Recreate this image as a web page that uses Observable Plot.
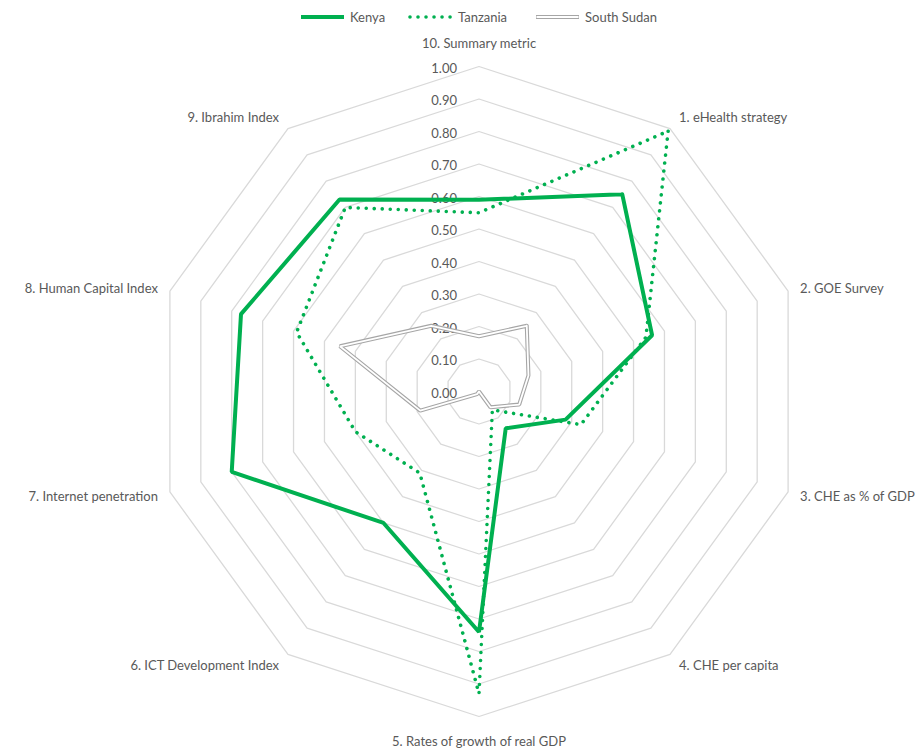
<!DOCTYPE html>
<html>
<head>
<meta charset="utf-8">
<script src="https://cdn.jsdelivr.net/npm/d3@7"></script>
<script src="https://cdn.jsdelivr.net/npm/@observablehq/plot@0.6"></script>
<style>
  html, body { margin: 0; padding: 0; background: #fff; }
  body { width: 921px; height: 751px; overflow: hidden; font-family: Lato, "Open Sans", sans-serif; }
  #legend { height: 30px; position: relative; font-size: 13px; color: #595959; }
  #legend .item { position: absolute; top: 9px; display: flex; align-items: center; }
  #legend svg { display: block; margin-right: 5px; }
  #chart svg { display: block; }
</style>
</head>
<body>
<div id="legend"></div>
<div id="chart"></div>
<script>
// ---- data ----
const categories = [
  "1. eHealth strategy",
  "2. GOE Survey",
  "3. CHE as % of GDP",
  "4. CHE per capita",
  "5. Rates of growth of real GDP",
  "6. ICT Development Index",
  "7. Internet penetration",
  "8. Human Capital Index",
  "9. Ibrahim Index",
  "10. Summary metric"
];
const seriesNames = ["Kenya", "Tanzania", "South Sudan"];
const kenya      = [0.75, 0.56, 0.28, 0.14, 0.74, 0.50, 0.80, 0.77, 0.73, 0.59];
const tanzania   = [0.99, 0.54, 0.33, 0.07, 0.93, 0.31, 0.40, 0.59, 0.70, 0.55];
const southSudan = [0.25, 0.16, 0.13, 0.06, 0.00, 0.01, 0.19, 0.45, 0.25, 0.17];
const ticks = [0, 0.1, 0.2, 0.3, 0.4, 0.5, 0.6, 0.7, 0.8, 0.9, 1.0];

// ---- layout ----
const W = 921, H = 721;
const R = 325;            // pixels for value 1.00
const cx = 478.5, cy = 361;
const n = categories.length;
const angle = i => 2 * Math.PI * (i + 1) / n;   // axis 1 at 36°, axis 10 at top
const px = v => v / R;     // pixel offset in data units

function polygon(values, name) {
  const pts = values.map((v, i) => ({name, i, x: v * Math.sin(angle(i)), y: v * Math.cos(angle(i))}));
  pts.push({...pts[0], i: n});
  return pts;
}

const grid = ticks.flatMap(t => polygon(categories.map(() => t), t));
const kData = polygon(kenya, "Kenya");
const tData = polygon(tanzania, "Tanzania");
const sData = polygon(southSudan, "South Sudan");

const labels = categories.map((c, i) => {
  const a = angle(i);
  const s = Math.sin(a), co = Math.cos(a);
  let dx = 0, dy = 0, anchor = "middle";
  if (Math.abs(s) < 1e-6) { dy = co > 0 ? -23 : 25; }
  else {
    anchor = s > 0 ? "start" : "end";
    const k = Math.abs(co) > 0.5 ? 9 : 12;
    dx = s > 0 ? k : -k;
    dy = co > 0.5 ? -11 : co > 0 ? -2 : co > -0.5 ? 5 : 11;
  }
  return {text: c, anchor, x: s + px(dx), y: co - px(dy)};
});

const textColor = "#595959";
const green = "#00B050";

const chart = Plot.plot({
  width: W,
  height: H,
  margin: 0,
  style: {fontFamily: "Lato, 'Open Sans', sans-serif", fontSize: "13px", color: textColor, background: "#fff"},
  x: {domain: [px(-cx), px(W - cx)], range: [0, W], axis: null},
  y: {domain: [px(cy - H), px(cy)], range: [H, 0], axis: null},
  marks: [
    Plot.line(grid, {x: "x", y: "y", z: "name", stroke: "#D9D9D9", strokeWidth: 1.3}),
    Plot.text(ticks, {x: px(-22), y: d => d, dy: 2, text: d => d.toFixed(2), textAnchor: "end", fill: textColor, fontSize: 13}),
    Plot.line(sData, {x: "x", y: "y", stroke: "#A6A6A6", strokeWidth: 4, strokeLinejoin: "miter"}),
    Plot.line(sData, {x: "x", y: "y", stroke: "#ffffff", strokeWidth: 1.8, strokeLinejoin: "miter"}),
    Plot.line(tData, {x: "x", y: "y", stroke: green, strokeWidth: 3.6, strokeDasharray: "0.01 8", strokeLinecap: "round"}),
    Plot.line(kData, {x: "x", y: "y", stroke: green, strokeWidth: 4, strokeLinejoin: "miter"}),
    Plot.text(labels.filter(d => d.anchor === "start"), {x: "x", y: "y", text: "text", textAnchor: "start", fill: textColor, fontSize: 13}),
    Plot.text(labels.filter(d => d.anchor === "end"), {x: "x", y: "y", text: "text", textAnchor: "end", fill: textColor, fontSize: 13}),
    Plot.text(labels.filter(d => d.anchor === "middle"), {x: "x", y: "y", text: "text", textAnchor: "middle", fill: textColor, fontSize: 13})
  ]
});
document.getElementById("chart").appendChild(chart);

// ---- legend ----
const legendPos = [300, 408, 535];
const legend = document.getElementById("legend");
seriesNames.forEach((name, k) => {
  const item = document.createElement("div");
  item.className = "item";
  item.style.left = legendPos[k] + "px";
  let sample;
  if (k === 0) sample = `<line x1="1" x2="44" y1="5" y2="5" stroke="${green}" stroke-width="4"/>`;
  else if (k === 1) sample = `<line x1="2" x2="44" y1="5" y2="5" stroke="${green}" stroke-width="3.6" stroke-dasharray="0.01 8" stroke-linecap="round"/>`;
  else sample = `<line x1="1" x2="44" y1="5" y2="5" stroke="#A6A6A6" stroke-width="4"/><line x1="1.5" x2="43.5" y1="5" y2="5" stroke="#fff" stroke-width="1.8"/>`;
  item.innerHTML = `<svg width="45" height="10">${sample}</svg><span>${name}</span>`;
  legend.appendChild(item);
});
</script>
</body>
</html>
